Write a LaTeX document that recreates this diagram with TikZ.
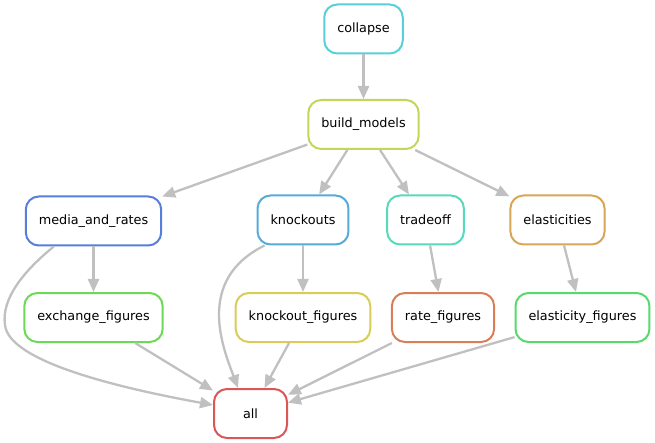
\documentclass[tikz,border=0pt]{standalone}
\usepackage{fontspec}
\setmainfont{DejaVu Sans}
\usetikzlibrary{arrows.meta}
\definecolor{cCollapse}{RGB}{87,208,217}
\definecolor{cBuild}{RGB}{191,217,87}
\definecolor{cMedia}{RGB}{87,126,217}
\definecolor{cKnock}{RGB}{87,170,217}
\definecolor{cTrade}{RGB}{87,217,187}
\definecolor{cElast}{RGB}{217,165,87}
\definecolor{cExch}{RGB}{108,217,87}
\definecolor{cKnockFig}{RGB}{217,204,87}
\definecolor{cRateFig}{RGB}{217,126,87}
\definecolor{cElastFig}{RGB}{87,217,108}
\definecolor{cAll}{RGB}{217,87,87}
\definecolor{edgegray}{RGB}{192,192,192}
\tikzset{rule/.style={draw=#1,line width=2pt,rounded corners=13pt,fill=white,
    minimum height=49pt,minimum width=73pt,inner xsep=13pt,
    font=\fontsize{12.8}{15}\selectfont}}
\tikzset{dep/.style={draw=edgegray,line width=2.3pt,
    -{Triangle[length=13pt,width=11pt]}}}

\begin{document}
\begin{tikzpicture}[x=1pt,y=1pt]
                \useasboundingbox (0,0) rectangle (655,-443);
                
                % Rules
                \node[rule=cCollapse] (collapse) at (363.5,-29) {collapse};
                \node[rule=cBuild] (build) at (363.5,-124.5) {build\_models};
                \node[rule=cMedia] (media) at (93.5,-221) {media\_and\_rates};
                \node[rule=cKnock] (knock) at (303,-220) {knockouts};
                \node[rule=cTrade] (trade) at (425.5,-220) {tradeoff};
                \node[rule=cElast] (elast) at (557.5,-220) {elasticities};
                \node[rule=cExch] (exch) at (93.5,-317.5) {exchange\_figures};
                \node[rule=cKnockFig] (knockfig) at (303,-317.5) {knockout\_figures};
                \node[rule=cRateFig] (ratefig) at (443,-317.5) {rate\_figures};
                \node[rule=cElastFig] (elastfig) at (582.5,-317.5) {elasticity\_figures};
                \node[rule=cAll] (all) at (250.5,-413.5) {all};
                
                % Dependencies
                \draw[dep] (collapse) -- (build);
                \draw[dep] (build) -- (media);
                \draw[dep] (build) -- (knock);
                \draw[dep] (build) -- (trade);
                \draw[dep] (build) -- (elast);
                \draw[dep] (media) -- (exch);
                \draw[dep] (knock) -- (knockfig);
                \draw[dep] (trade) -- (ratefig);
                \draw[dep] (elast) -- (elastfig);
                
                % Into all
                \draw[dep] (exch) -- (all);
                \draw[dep] (knockfig) -- (all);
                \draw[dep] (ratefig) -- (all);
                \draw[dep] (elastfig) -- (all);
                \draw[dep] ([xshift=29pt]media.south west) .. controls (25,-270) and (1,-298) .. (5,-325)
                    .. controls (9,-362) and (120,-388) .. ([yshift=8.5pt]all.west);
                \draw[dep] ([xshift=8pt]knock.south west) .. controls (195,-280) and (223,-348) .. ([xshift=-12.5pt]all.north);
\end{tikzpicture}
\end{document}
